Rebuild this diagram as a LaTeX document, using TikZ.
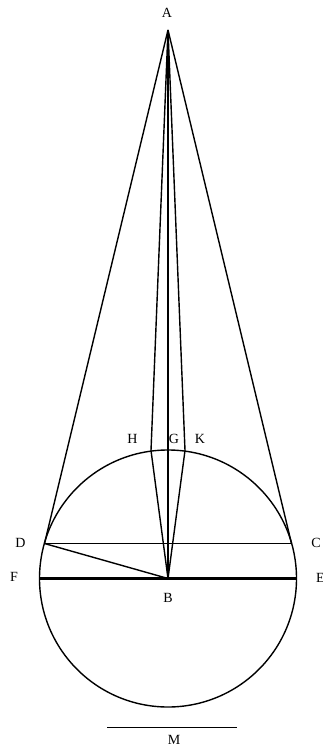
\documentclass[tikz,border=0pt]{standalone}
\usepackage{fontspec}
\setmainfont{Liberation Serif}
\usetikzlibrary{calc}

\begin{document}
\begin{tikzpicture}[
    x=1pt, y=-1pt,
    edge/.style={line width=1.4pt, black},
    heavy/.style={line width=2.8pt, black},
    lbl/.style={font=\fontsize{14}{14}\selectfont, inner sep=0pt, text=black}
]
\useasboundingbox (0,0) rectangle (322,751);

% Points
\coordinate (A) at (168,30);
\coordinate (B) at (168,578.5);
\coordinate (D) at (44.5,543.5);
\coordinate (C) at (291.5,543.5);
\coordinate (F) at (39.5,578.5);
\coordinate (E) at (296.5,578.5);
\coordinate (H) at (151,450.5);
\coordinate (G) at (168,450);
\coordinate (K) at (185,450.5);
\coordinate (Ml) at (107,727.5);
\coordinate (Mr) at (237,727.5);

% Circle
\draw[edge] (B) circle[radius=128.5];

% Lines from A
\draw[edge] (A) -- (D);
\draw[edge] (A) -- (C);
\draw[edge] (A) -- (H) -- (B);
\draw[edge] (A) -- (K) -- (B);
\draw[edge] (A) -- (B);

% Chords
\draw[edge] (D) -- (C);
\draw[edge] (D) -- (B);
\draw[heavy] (F) -- (E);

% Measure M
\draw[edge, line width=1.6pt] (Ml) -- (Mr);

% Labels
\node[lbl] (lA) at (167,13) {A};
\node[lbl] (lH) at (132.5,439) {H};
\node[lbl] (lG) at (174,439) {G};
\node[lbl] (lK) at (200,439) {K};
\node[lbl] (lD) at (20.5,542.5) {D};
\node[lbl] (lC) at (316,543) {C};
\node[lbl] (lF) at (14,577) {F};
\node[lbl] (lE) at (320.5,578) {E};
\node[lbl] (lB) at (168,598) {B};
\node[lbl] (lM) at (174,740) {M};

\end{tikzpicture}
\end{document}
